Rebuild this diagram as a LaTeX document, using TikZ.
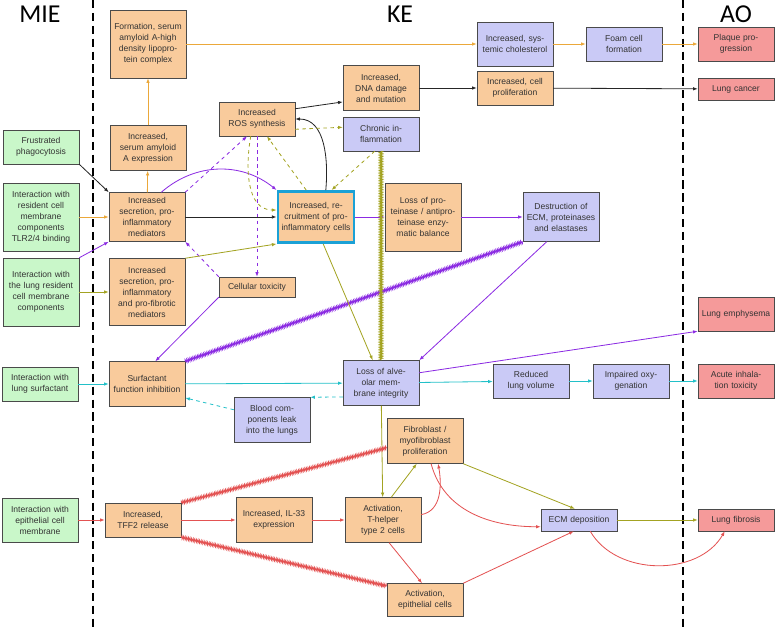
\documentclass[tikz,border=0pt]{standalone}
\usepackage{fontspec}
\setmainfont{Liberation Sans}
\newfontfamily\headfont{Carlito}
\usepackage{xcolor}
\usetikzlibrary{arrows.meta, decorations.pathmorphing}
\definecolor{kefill}{HTML}{F9CB9C}
\definecolor{miefill}{HTML}{C9F7C9}
\definecolor{kebfill}{HTML}{CACAF6}
\definecolor{aofill}{HTML}{F59A9A}
\definecolor{boxline}{HTML}{4A4A4A}
\definecolor{corange}{HTML}{EBA83A}
\definecolor{cpurple}{HTML}{8B2BE2}
\definecolor{colive}{HTML}{A3A322}
\definecolor{ccyan}{HTML}{22C0C8}
\definecolor{cred}{HTML}{E35252}
\definecolor{cframe}{HTML}{1BA1D6}
\tikzset{
    box/.style={
        draw=boxline,
        shape=rectangle,
        minimum width=2.28cm,
        text width=2.1cm,
        align=center,
        inner sep=1pt,
        font=\fontsize{7.3}{9.4}\selectfont,
        text=black!80,
    },
    ke/.style={box, fill=kefill},
    keb/.style={box, fill=kebfill},
    mie/.style={box, fill=miefill},
    ao/.style={box, fill=aofill},
    head/.style={font=\headfont\fontsize{22}{24}\selectfont},
    hatch/.style={postaction={draw,-,decorate,decoration={zigzag,amplitude=1.3pt,segment length=1.4pt}}},
    >={Latex[length=4pt,width=3pt]},
    every edge/.append style={->,line width=0.7pt}
}
\begin{document}
\begin{tikzpicture}[x=0.03cm,y=-0.03cm]
\useasboundingbox (0,0) rectangle (776,627);
\node[head] at (40,14) {MIE};
\node[head] at (400,14) {KE};
\node[head] at (736,14) {AO};
\draw[dashed,line width=1.3pt,dash pattern=on 7pt off 4pt] (93,0) -- (93,627);
\draw[dashed,line width=1.3pt,dash pattern=on 7pt off 4pt] (683,0) -- (683,627);

% MIE
\node[mie, minimum height=34*0.03cm] (frust) at (41,147) {Frustrated phagocytosis};
\node[mie, minimum height=68*0.03cm] (resid) at (41,217) {Interaction with resident cell membrane components TLR2/4 binding};
\node[mie, minimum height=68*0.03cm] (lungres) at (41,292) {Interaction with the lung resident cell membrane components};
\node[mie, minimum height=34*0.03cm] (surfi) at (40,384) {Interaction with lung surfactant};
\node[mie, minimum height=44*0.03cm] (epii) at (40,520) {Interaction with epithelial cell membrane};

% KE
\node[ke, minimum height=68*0.03cm] (saaf) at (148,44) {Formation, serum amyloid A-high density lipoprotein complex};
\node[ke, minimum height=45*0.03cm] (saae) at (148,148) {Increased, serum amyloid A expression};
\node[ke, minimum height=49*0.03cm] (secr) at (147,217) {Increased secretion, pro-inflammatory mediators};
\node[ke, minimum height=67*0.03cm] (secf) at (147,292) {Increased secretion, pro-inflammatory and pro-fibrotic mediators};
\node[ke, minimum height=34*0.03cm] (ros) at (257,119) {Increased ROS synthesis};
\node[ke, minimum height=20*0.03cm] (tox) at (257,287) {Cellular toxicity};
\node[ke, minimum height=51*0.03cm, draw=cframe, line width=2.5pt] (recr) at (316,217) {Increased, recruitment of pro-inflammatory cells};
\node[ke, minimum height=45*0.03cm] (dna) at (381,88) {Increased, DNA damage and mutation};
\node[keb, minimum height=34*0.03cm] (chron) at (381,134) {Chronic inflammation};
\node[ke, minimum height=68*0.03cm] (prot) at (423,217) {Loss of proteinase / antiproteinase enzymatic balance};
\node[keb, minimum height=49*0.03cm] (ecmd) at (561,217) {Destruction of ECM, proteinases and elastases};
\node[keb, minimum height=44*0.03cm] (chol) at (515,44) {Increased, systemic cholesterol};
\node[keb, minimum height=34*0.03cm] (foam) at (624,44) {Foam cell formation};
\node[ke, minimum height=34*0.03cm] (prolif) at (515,88) {Increased, cell proliferation};
\node[ke, minimum height=45*0.03cm] (surf) at (147,384) {Surfactant function inhibition};
\node[keb, minimum height=45*0.03cm] (blood) at (272,420) {Blood components leak into the lungs};
\node[keb, minimum height=45*0.03cm] (alv) at (381,383) {Loss of alveolar membrane integrity};
\node[keb, minimum height=34*0.03cm] (vol) at (531,381) {Reduced lung volume};
\node[keb, minimum height=34*0.03cm] (oxy) at (631,381) {Impaired oxygenation};
\node[ke, minimum height=45*0.03cm] (fib) at (425,441) {Fibroblast / myofibroblast proliferation};
\node[ke, minimum height=34*0.03cm] (tff) at (143,520) {Increased, TFF2 release};
\node[ke, minimum height=45*0.03cm] (il) at (274,520) {Increased, IL-33 expression};
\node[ke, minimum height=45*0.03cm] (th) at (383,520) {Activation, T-helper type 2 cells};
\node[keb, minimum height=22*0.03cm] (ecm) at (579,520) {ECM deposition};
\node[ke, minimum height=33*0.03cm] (epic) at (425,600) {Activation, epithelial cells};

% AO
\node[ao, minimum height=34*0.03cm] (plaque) at (736,44) {Plaque progression};
\node[ao, minimum height=22*0.03cm] (cancer) at (736,89) {Lung cancer};
\node[ao, minimum height=34*0.03cm] (emph) at (736,314) {Lung emphysema};
\node[ao, minimum height=34*0.03cm] (acute) at (736,381) {Acute inhalation toxicity};
\node[ao, minimum height=22*0.03cm] (fibro) at (736,520) {Lung fibrosis};

\path[corange]
    (resid) edge (secr)
    (secr) edge (saae)
    (saae) edge (saaf)
    (saaf) edge (chol)
    (chol) edge (foam)
    (foam) edge (plaque);
\path[black!85]
    (frust.south east) edge (secr.north west)
    (secr) edge (recr)
    (recr.70) edge[out=85,in=0] (ros.east)
    (ros.15) edge (dna.200)
    (dna) edge (prolif)
    (prolif) edge (cancer);
\path[cpurple]
    (lungres.north east) edge (secr.south west)
    (secr.60) edge[bend left=40] (recr.north west)
    (secr.north east) edge[dashed] (ros.-120)
    (ros) edge[dashed] (tox)
    (tox.north west) edge[dashed] (secr.south east)
    (tox.south west) edge (surf.70)
    (recr) edge (prot)
    (prot) edge (ecmd)
    (surf.north east) edge[hatch] (ecmd.south west)
    (ecmd.-120) edge (alv.north east)
    (alv.15) edge (emph.south west);
\path[colive]
    (lungres) edge (secf)
    (secf.north east) edge (recr.south west)
    (ros.-110) edge[dashed,out=-100,in=180] (recr.170)
    (recr.110) edge[dashed] (ros.-60)
    (ros.-15) edge[dashed] (chron.170)
    (chron.-110) edge[dashed] (recr.60)
    (chron.south) edge[hatch] (alv.north)
    (recr.-75) edge (alv.110)
    (alv) edge (th)
    (th.70) edge (fib.-110)
    (fib.south east) edge (ecm.110)
    (ecm) edge (fibro);
\path[ccyan]
    (surfi) edge (surf)
    (surf) edge (alv)
    (alv) edge (vol)
    (vol) edge (oxy)
    (oxy) edge (acute)
    (alv.-160) edge[dashed] (blood.north east)
    (blood.165) edge[dashed] (surf.-20);
\path[cred]
    (epii) edge (tff)
    (tff) edge (il)
    (il) edge (th)
    (tff.north east) edge[hatch] (fib.190)
    (tff.south east) edge[hatch] (epic.160)
    (th.-75) edge (epic.100)
    (th.8) edge[out=10,in=-80] (fib.-60)
    (fib.-75) edge[out=-75,in=180] (ecm.-170)
    (epic.north east) edge (ecm.-115)
    (ecm.-45) edge[out=-60,in=-120] (fibro.-135);
\end{tikzpicture}
\end{document}
